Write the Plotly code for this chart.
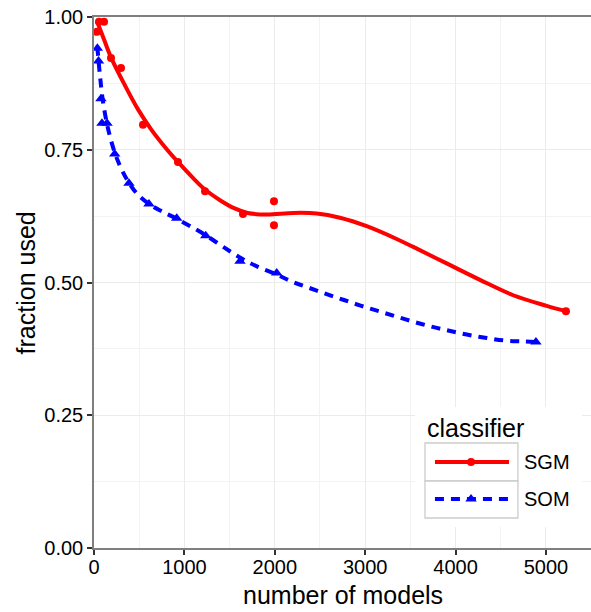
import plotly.graph_objects as go

# ---------------- data ----------------
SGM_X = [33, 55, 111, 188, 299, 542, 929, 1228, 1648, 1991, 1991, 5221]
SGM_Y = [0.972, 0.991, 0.991, 0.923, 0.904, 0.797, 0.727, 0.672, 0.629, 0.653, 0.608, 0.446]

SOM_X = [37, 50, 77, 88, 144, 229, 387, 608, 915, 1236, 1615, 2021, 4889]
SOM_Y = [0.941, 0.917, 0.846, 0.800, 0.800, 0.742, 0.687, 0.648, 0.621, 0.588, 0.540, 0.518, 0.388]

# smoothed (loess) curves as drawn in the reference
SGM_FIT_X = [33, 110, 188, 340, 487, 634, 800, 929, 1100, 1228, 1394, 1550, 1700, 1910,
             2205, 2463, 2721, 3017, 3348, 3532, 3901, 4270, 4638, 5008, 5221]
SGM_FIT_Y = [0.992, 0.958, 0.924, 0.872, 0.826, 0.788, 0.752, 0.727, 0.696, 0.675, 0.655, 0.640, 0.631, 0.628,
             0.631, 0.630, 0.622, 0.606, 0.582, 0.567, 0.536, 0.505, 0.476, 0.456, 0.446]

SOM_FIT_X = [37, 63, 100, 155, 229, 300, 379, 472, 608, 749, 915, 1117, 1236, 1430, 1615, 1807,
             2021, 2187, 2378, 2574, 2765, 2957, 3149, 3341, 3536, 3731, 3930, 4123, 4325, 4528, 4731, 4889]
SOM_FIT_Y = [0.944, 0.895, 0.840, 0.790, 0.745, 0.715, 0.690, 0.668, 0.648, 0.634, 0.620, 0.601, 0.589,
             0.567, 0.547, 0.530, 0.515, 0.502, 0.490, 0.478, 0.467, 0.456, 0.446, 0.436, 0.426, 0.417,
             0.409, 0.402, 0.396, 0.391, 0.389, 0.388]

X_TICKS = [0, 1000, 2000, 3000, 4000, 5000]
Y_TICKS = [0.00, 0.25, 0.50, 0.75, 1.00]
Y_TICK_TEXT = ["0.00", "0.25", "0.50", "0.75", "1.00"]
CLASSES = ["SGM", "SOM"]
LEGEND_TITLE = "classifier"
X_TITLE = "number of models"
Y_TITLE = "fraction used"

# ---------------- styling ----------------
FONT = "Liberation Sans, Arial, Helvetica, sans-serif"
RED = "#ff0000"
BLUE = "#0000ff"
X_RANGE = [0, 5498]
Y_RANGE = [0, 1]
DASH = "9px,7px"

fig = go.Figure()

fig.add_trace(go.Scatter(x=SGM_FIT_X, y=SGM_FIT_Y, mode="lines",
                         line=dict(color=RED, width=4, shape="spline", smoothing=1.0),
                         showlegend=False, hoverinfo="skip"))
fig.add_trace(go.Scatter(x=SOM_FIT_X, y=SOM_FIT_Y, mode="lines",
                         line=dict(color=BLUE, width=4, dash=DASH, shape="spline", smoothing=1.0),
                         showlegend=False, hoverinfo="skip"))
fig.add_trace(go.Scatter(x=SGM_X, y=SGM_Y, mode="markers", name=CLASSES[0],
                         marker=dict(color=RED, size=8, symbol="circle", line=dict(width=0)),
                         showlegend=False))
fig.add_trace(go.Scatter(x=SOM_X, y=SOM_Y, mode="markers", name=CLASSES[1],
                         marker=dict(color=BLUE, size=10, symbol="triangle-up", line=dict(width=0)),
                         showlegend=False))

# ---------------- hand-built legend (ggplot style) ----------------
# positions in fractions of the plot area
LEG_BG = (0.646, 0.982, 0.0395, 0.2655)
KEY_X = (0.666, 0.853)
KEY_ROWS = [(0.1262, 0.1977), (0.0565, 0.1262)]
LINE_X = (0.686, 0.835)
MARK_X = 0.7586
ROW_Y = [0.162, 0.0923]


def dx(f):
    return X_RANGE[0] + f * (X_RANGE[1] - X_RANGE[0])


def dy(f):
    return Y_RANGE[0] + f * (Y_RANGE[1] - Y_RANGE[0])


shapes = [dict(type="rect", xref="x", yref="y", layer="between",
               x0=dx(LEG_BG[0]), x1=dx(LEG_BG[1]), y0=dy(LEG_BG[2]), y1=dy(LEG_BG[3]),
               fillcolor="white", line=dict(width=0))]
for (y0, y1) in KEY_ROWS:
    shapes.append(dict(type="rect", xref="x", yref="y", layer="between",
                       x0=dx(KEY_X[0]), x1=dx(KEY_X[1]), y0=dy(y0), y1=dy(y1),
                       fillcolor="white", line=dict(color="#cccccc", width=1.3)))

styles = [(RED, "solid", "circle", 8), (BLUE, DASH, "triangle-up", 10)]
for (col, dash, sym, sz), ry in zip(styles, ROW_Y):
    fig.add_trace(go.Scatter(x=[LINE_X[0], LINE_X[1]], y=[ry, ry], xaxis="x2", yaxis="y2",
                             mode="lines", line=dict(color=col, width=4, dash=dash),
                             showlegend=False, hoverinfo="skip"))
    fig.add_trace(go.Scatter(x=[MARK_X], y=[ry], xaxis="x2", yaxis="y2", mode="markers",
                             marker=dict(color=col, size=sz, symbol=sym, line=dict(width=0)),
                             showlegend=False, hoverinfo="skip"))

annotations = [
    dict(text=LEGEND_TITLE, xref="paper", yref="paper", x=0.666, y=0.226,
         xanchor="left", yanchor="middle", showarrow=False, font=dict(size=25, color="black", family=FONT)),
    dict(text=CLASSES[0], xref="paper", yref="paper", x=0.862, y=ROW_Y[0],
         xanchor="left", yanchor="middle", showarrow=False, font=dict(size=20, color="black", family=FONT)),
    dict(text=CLASSES[1], xref="paper", yref="paper", x=0.862, y=ROW_Y[1],
         xanchor="left", yanchor="middle", showarrow=False, font=dict(size=20, color="black", family=FONT)),
    dict(text=X_TITLE, xref="paper", yref="paper", x=0.5, y=-0.088,
         xanchor="center", yanchor="middle", showarrow=False, font=dict(size=25, color="black", family=FONT)),
    dict(text=Y_TITLE, xref="paper", yref="paper", x=-0.137, y=0.5, textangle=-90,
         xanchor="center", yanchor="middle", showarrow=False, font=dict(size=25, color="black", family=FONT)),
]

axis_common = dict(
    showline=True, linecolor="#7f7f7f", linewidth=1.5,
    ticks="outside", ticklen=5, tickwidth=1.5, tickcolor="#333333",
    showgrid=True, gridcolor="#ebebeb", gridwidth=1.3,
    zeroline=False, tickfont=dict(size=20, color="black", family=FONT),
)

fig.update_layout(
    width=591, height=612,
    margin=dict(l=94, r=0, t=17, b=64),
    paper_bgcolor="white", plot_bgcolor="white",
    font=dict(family=FONT, color="black"),
    showlegend=False,
    xaxis=dict(range=X_RANGE, tickvals=X_TICKS, ticktext=[str(v) for v in X_TICKS],
               mirror=True, ticklabelstandoff=-5,
               minor=dict(showgrid=True, gridcolor="#f3f3f3", gridwidth=0.8, dtick=500, ticks=""),
               **axis_common),
    yaxis=dict(range=Y_RANGE, tickvals=Y_TICKS, ticktext=Y_TICK_TEXT,
               minor=dict(showgrid=True, gridcolor="#f3f3f3", gridwidth=0.8, dtick=0.125, ticks=""),
               **axis_common),
    xaxis2=dict(overlaying="x", range=[0, 1], visible=False),
    yaxis2=dict(overlaying="y", range=[0, 1], visible=False),
    shapes=shapes,
    annotations=annotations,
)

fig.write_html("out.html")
